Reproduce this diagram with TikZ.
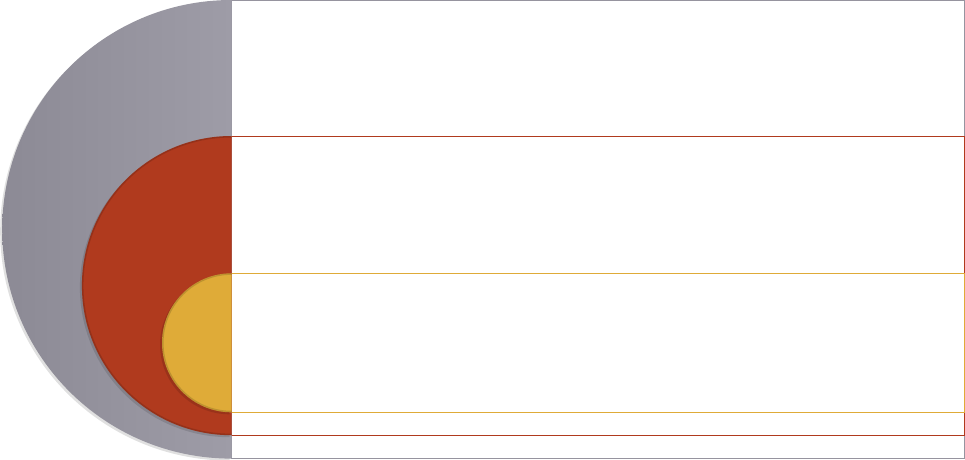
\documentclass[tikz,border=0pt]{standalone}
\usepackage{tikz}
\usetikzlibrary{shadings}
\definecolor{ring grey}{HTML}{96949F}
\definecolor{ring grey dark}{HTML}{8C8A95}
\definecolor{ring grey light}{HTML}{9E9CA7}
\definecolor{ring red}{HTML}{B03A1E}
\definecolor{ring gold}{HTML}{DFAB38}
\colorlet{frame grey}{ring grey}
\tikzset{
  halfshadow/.style={fill=black, opacity=0.12},
  greydisk/.style={left color=ring grey dark, right color=ring grey light},
  reddisk/.style={fill=ring red},
  golddisk/.style={fill=ring gold},
  panel/.style={line width=1pt}
}

\begin{document}
\begin{tikzpicture}[x=1pt, y=1pt]
	\useasboundingbox (0,0) rectangle (965,459);
	\tikzstyle{edgeshade}=[draw=black, opacity=0.15, line width=1.5pt]

	% outline panels
	\draw[panel, draw=frame grey] (231.5,0.5) rectangle (964,458.5);
	\draw[panel, draw=ring red] (231.5,23.7) rectangle (964,323);
	\draw[panel, draw=ring gold] (231.5,46.7) rectangle (964,185.7);

	% grey ring
	\fill[halfshadow] (229.5,457) arc[start angle=90, end angle=270, radius=229.3] -- cycle;
	\path[greydisk] (231.5,459) arc[start angle=90, end angle=270, radius=229.3] -- cycle;

	% red ring
	\fill[halfshadow] (229.5,321) arc[start angle=90, end angle=270, radius=149.6] -- cycle;
	\path[reddisk] (231.5,323) arc[start angle=90, end angle=270, radius=149.6] -- cycle;
	\draw[edgeshade] (231.5,323) ++(0,-0.8) arc[start angle=90, end angle=270, radius=148.8];

	% gold core
	\fill[halfshadow] (229.5,183.7) arc[start angle=90, end angle=270, radius=69.5] -- cycle;
	\path[golddisk] (231.5,185.7) arc[start angle=90, end angle=270, radius=69.5] -- cycle;
	\draw[edgeshade] (231.5,185.7) ++(0,-0.8) arc[start angle=90, end angle=270, radius=68.7];
\end{tikzpicture}
\end{document}
